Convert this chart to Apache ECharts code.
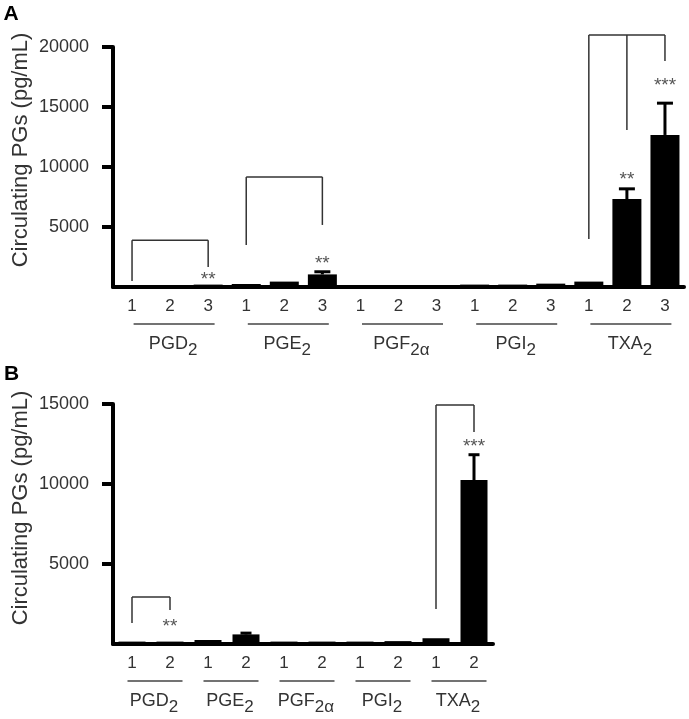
<!DOCTYPE html>
<html><head><meta charset="utf-8">
<script src="https://cdn.jsdelivr.net/npm/echarts@6/dist/echarts.min.js"></script>
<style>html,body{margin:0;padding:0;background:#fff}#c{width:689px;height:719px}</style>
</head><body><div id="c"></div>
<script>
// ---------- Panel A ----------
const groupMain = ['PGD', 'PGE', 'PGF', 'PGI', 'TXA'];
const groupSub = ['2', '2', '2α', '2', '2'];
const subLabelsA = ['1', '2', '3'];
const valuesA = [150, 150, 200, 250, 450, 1050, 150, 150, 150, 200, 200, 280, 450, 7330, 12670];
const errorsA = [0, 0, 0, 0, 0, 220, 0, 0, 0, 0, 0, 0, 0, 850, 2650];
const yTicksA = [5000, 10000, 15000, 20000];
const bracketTopA = [3900, 9170, 21000];
const bracketLegsA = [[[0, 500], [2, 1670]], [[3, 3500], [5, 5170]], [[12, 4000], [13, 13080], [14, 18830]]];
const starsA = [[2, 920, '**'], [5, 2250, '**'], [13, 9250, '**'], [14, 17080, '***']];

// ---------- Panel B ----------
const subLabelsB = ['1', '2'];
const valuesB = [150, 150, 250, 600, 150, 150, 150, 180, 360, 10250];
const errorsB = [0, 0, 0, 80, 0, 0, 0, 0, 0, 1580];
const yTicksB = [5000, 10000, 15000];
const bracketTopB = [2940, 14940];
const bracketLegsB = [[[0, 1310], [1, 2125]], [[8, 2190], [9, 13250]]];
const starsB = [[1, 1310, '**'], [9, 12560, '***']];

const FONT = 'Liberation Sans, Arial, sans-serif';
const TXT = '#333';

function cats(subs) {
  const out = [];
  groupMain.forEach((g, gi) => subs.forEach(s => out.push(gi + '|' + s)));
  return out;
}

function errRender(errors, capW) {
  return function (params, api) {
    const e = errors[params.dataIndex];
    if (!e) return null;
    const i = api.value(0), v = api.value(1);
    const p0 = api.coord([i, v]);
    const p1 = api.coord([i, v + e]);
    return {
      type: 'group', children: [
        { type: 'line', shape: { x1: p0[0], y1: p0[1], x2: p1[0], y2: p1[1] }, style: { stroke: '#000', lineWidth: 3 } },
        { type: 'line', shape: { x1: p1[0] - capW / 2, y1: p1[1], x2: p1[0] + capW / 2, y2: p1[1] }, style: { stroke: '#000', lineWidth: 3 } }
      ]
    };
  };
}

function bracketRender(legsList) {
  return function (params, api) {
    const legs = legsList[params.dataIndex];
    const top = api.value(1);
    const children = [];
    const first = api.coord([legs[0][0], top]);
    const last = api.coord([legs[legs.length - 1][0], top]);
    children.push({ type: 'line', shape: { x1: first[0], y1: first[1], x2: last[0], y2: last[1] }, style: { stroke: '#333', lineWidth: 1.5 } });
    legs.forEach(l => {
      const a = api.coord([l[0], top]);
      const b = api.coord([l[0], l[1]]);
      children.push({ type: 'line', shape: { x1: a[0], y1: a[1], x2: b[0], y2: b[1] }, style: { stroke: '#333', lineWidth: 1.5 } });
    });
    return { type: 'group', children };
  };
}

function starRender(stars) {
  return function (params, api) {
    const p = api.coord([api.value(0), api.value(1)]);
    return {
      type: 'text', x: p[0], y: p[1] + 4,
      style: { text: stars[params.dataIndex][2], fill: '#555', font: '19px ' + FONT, align: 'center', verticalAlign: 'middle' }
    };
  };
}

function groupRender(n, halfW) {
  return function (params, api) {
    const gi = params.dataIndex;
    const a = api.coord([gi * n, 0]);
    const b = api.coord([gi * n + n - 1, 0]);
    const mid = (a[0] + b[0]) / 2;
    return {
      type: 'group', children: [
        { type: 'line', shape: { x1: mid + 4 - halfW, y1: a[1] + 37, x2: mid + 4 + halfW, y2: a[1] + 37 }, style: { stroke: '#444', lineWidth: 1.5 } },
        {
          type: 'text', x: mid + 3, y: a[1] + 57,
          style: {
            text: '{m|' + groupMain[gi] + '}{s|' + groupSub[gi] + '}',
            align: 'center', verticalAlign: 'middle',
            rich: {
              m: { fontSize: 18, fontFamily: FONT, fill: TXT },
              s: { fontSize: 17, fontFamily: FONT, fill: TXT, padding: [12, 0, 0, 0] }
            }
          }
        }
      ]
    };
  };
}

function xAxisCfg(grid, data) {
  return {
    type: 'category', gridIndex: grid, data: data,
    axisLine: { lineStyle: { color: '#000', width: 4 } },
    axisTick: { show: false },
    axisLabel: { interval: 0, formatter: v => v.split('|')[1], fontSize: 17, fontFamily: FONT, color: TXT, margin: 11 }
  };
}
function yAxisCfg(grid, max, ticks) {
  return {
    type: 'value', gridIndex: grid, min: 0, max: max, interval: 5000,
    splitLine: { show: false },
    axisLine: { show: true, lineStyle: { color: '#000', width: 4 } },
    axisTick: { show: true, length: 11, lineStyle: { color: '#000', width: 4 }, customValues: ticks },
    axisLabel: { fontSize: 18, fontFamily: FONT, color: TXT, margin: 24, customValues: ticks, formatter: v => String(v) }
  };
}

const chart = echarts.init(document.getElementById('c'), null, { renderer: 'canvas' });
chart.setOption({
  animation: false,
  backgroundColor: '#fff',
  grid: [
    { left: 113, right: 5, top: 47, height: 240 },
    { left: 113, width: 380, top: 404, height: 240 }
  ],
  xAxis: [xAxisCfg(0, cats(subLabelsA)), xAxisCfg(1, cats(subLabelsB))],
  yAxis: [yAxisCfg(0, 20000, yTicksA), yAxisCfg(1, 15000, yTicksB)],
  graphic: [
    { type: 'text', x: 11, y: 14, style: { text: 'A', font: 'bold 21px ' + FONT, fill: '#000', align: 'center', verticalAlign: 'middle' } },
    { type: 'text', x: 11.5, y: 374, style: { text: 'B', font: 'bold 21px ' + FONT, fill: '#000', align: 'center', verticalAlign: 'middle' } },
    { type: 'text', x: 21, y: 150, rotation: Math.PI / 2, style: { text: 'Circulating PGs (pg/mL)', font: '22px ' + FONT, fill: TXT, align: 'center', verticalAlign: 'middle' } },
    { type: 'text', x: 21, y: 508, rotation: Math.PI / 2, style: { text: 'Circulating PGs (pg/mL)', font: '22px ' + FONT, fill: TXT, align: 'center', verticalAlign: 'middle' } }
  ],
  series: [
    { type: 'bar', xAxisIndex: 0, yAxisIndex: 0, data: valuesA, barWidth: 29, itemStyle: { color: '#000' } },
    { type: 'custom', xAxisIndex: 0, yAxisIndex: 0, data: valuesA.map((v, i) => [i, v]), renderItem: errRender(errorsA, 16), z: 3 },
    { type: 'custom', xAxisIndex: 0, yAxisIndex: 0, clip: false, data: bracketTopA.map((t, k) => [bracketLegsA[k][0][0], t]), renderItem: bracketRender(bracketLegsA) },
    { type: 'custom', xAxisIndex: 0, yAxisIndex: 0, clip: false, data: starsA.map(s => [s[0], s[1]]), renderItem: starRender(starsA) },
    { type: 'custom', xAxisIndex: 0, yAxisIndex: 0, clip: false, data: groupMain.map((g, gi) => [gi * subLabelsA.length, 0]), renderItem: groupRender(subLabelsA.length, 40.5) },

    { type: 'bar', xAxisIndex: 1, yAxisIndex: 1, data: valuesB, barWidth: 27, itemStyle: { color: '#000' } },
    { type: 'custom', xAxisIndex: 1, yAxisIndex: 1, data: valuesB.map((v, i) => [i, v]), renderItem: errRender(errorsB, 11), z: 3 },
    { type: 'custom', xAxisIndex: 1, yAxisIndex: 1, clip: false, data: bracketTopB.map((t, k) => [bracketLegsB[k][0][0], t]), renderItem: bracketRender(bracketLegsB) },
    { type: 'custom', xAxisIndex: 1, yAxisIndex: 1, clip: false, data: starsB.map(s => [s[0], s[1]]), renderItem: starRender(starsB) },
    { type: 'custom', xAxisIndex: 1, yAxisIndex: 1, clip: false, data: groupMain.map((g, gi) => [gi * subLabelsB.length, 0]), renderItem: groupRender(subLabelsB.length, 27.5) }
  ]
});
</script>
</body></html>
